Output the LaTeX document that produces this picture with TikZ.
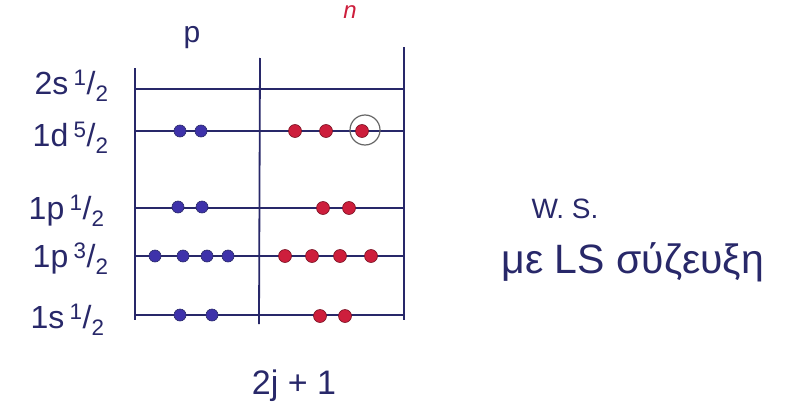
\documentclass[tikz,border=0pt]{standalone}
\usepackage{fontspec}
\setmainfont{Liberation Sans}
\definecolor{ink}{RGB}{40,40,105}
\definecolor{pblue}{RGB}{62,50,170}
\definecolor{nred}{RGB}{205,30,60}
\begin{document}
\begin{tikzpicture}[x=1pt,y=-1pt,
  frame/.style={draw=ink,line width=1.8pt},
  level/.style={draw=ink,line width=1.8pt},
  pdot/.style={circle,fill=pblue,draw=ink,line width=0.6pt,minimum size=12pt,inner sep=0pt},
  ndot/.style={circle,fill=nred,draw=nred!60!black,line width=0.6pt,minimum size=13pt,inner sep=0pt},
  lab/.style={text=ink,anchor=east,font=\fontsize{32}{36}\selectfont},
  txt/.style={text=ink,font=\fontsize{24}{28}\selectfont}]
\useasboundingbox (0,0) rectangle (808,415);
% frame
\coordinate (L1) at (135,68); \coordinate (L2) at (135,320);
\coordinate (M1) at (260,58); \coordinate (M2) at (259,324);
\coordinate (R1) at (404,47); \coordinate (R2) at (404,320);
\draw[frame] (L1) -- (L2);
\draw[frame] (M1) -- (M2);
\draw[frame] (R1) -- (R2);
% levels
\foreach \n/\y in {a/89,b/131,c/208,d/256,e/315}{
  \coordinate (\n0) at (134,\y); \coordinate (\n1) at (404,\y);
  \draw[level] (\n0) -- (\n1);
}
% labels
\node[lab] (la) at (112,86) {2s\,\textsuperscript{1}/\textsubscript{2}};
\node[lab] (lb) at (112,138) {1d\,\textsuperscript{5}/\textsubscript{2}};
\node[lab] (lc) at (108,211) {1p\,\textsuperscript{1}/\textsubscript{2}};
\node[lab] (ld) at (112,259) {1p\,\textsuperscript{3}/\textsubscript{2}};
\node[lab] (le) at (108,320) {1s\,\textsuperscript{1}/\textsubscript{2}};
% headers
\node[txt,font=\fontsize{30}{34}\selectfont] (p) at (192,38) {p};
\node[text=nred,font=\fontsize{24}{28}\selectfont\itshape] (n) at (350,12) {n};
% dots
\foreach \x in {180,201} \node[pdot] at (\x,131) {};
\foreach \x in {295,326} \node[ndot] at (\x,131) {};
\node[ndot] (last) at (362,131) {};
\node[draw=gray!80!black,line width=1.2pt,circle,minimum size=30pt,inner sep=0pt] (ring) at (365,130) {};
\foreach \x in {178,202} \node[pdot] at (\x,207) {};
\foreach \x in {323,349} \node[ndot] at (\x,208) {};
\foreach \x in {155,183,207,228} \node[pdot] at (\x,256) {};
\foreach \x in {285,312,340,371} \node[ndot] at (\x,256) {};
\foreach \x in {180,212} \node[pdot] at (\x,315) {};
\foreach \x in {320,345} \node[ndot] at (\x,316) {};
% bottom and side texts
\node[txt,font=\fontsize{34}{38}\selectfont] (tj) at (294,386) {2j + 1};
\node[txt,anchor=west,font=\fontsize{28}{32}\selectfont] (ws) at (528,209) {W. S.};
\node[txt,anchor=west,font=\fontsize{41}{46}\selectfont] (ls) at (498,262) {με LS σύζευξη};
\end{tikzpicture}
\end{document}
